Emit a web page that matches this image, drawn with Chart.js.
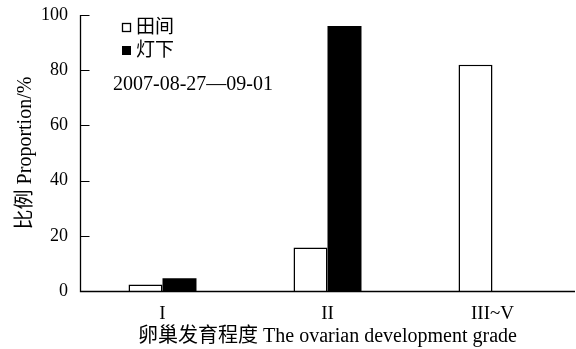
<!DOCTYPE html>
<html>
<head>
<meta charset="utf-8">
<script src="https://cdn.jsdelivr.net/npm/chart.js@4/dist/chart.umd.min.js"></script>
<style>
  html, body { margin: 0; padding: 0; background: #fff; }
  #wrap { width: 576px; height: 349px; position: relative; }
</style>
</head>
<body>
<div id="wrap"><canvas id="c"></canvas></div>
<script>
// Ovarian development grade of moths: field vs. light trap
const grades = ['I', 'II', 'III~V'];
const fieldValues = [2.4, 15.8, 82];   // 田间
const lightValues = [4.6, 96, 0];      // 灯下
const yTicks = [0, 20, 40, 60, 80, 100];
const seriesNames = ['田间', '灯下'];
const dateRange = '2007-08-27—09-01';

const FONT = '"Liberation Serif", "Times New Roman", "Noto Sans CJK SC", serif';

// axis lines, inward tick marks on the y axis, legend and date note
const decorations = {
  id: 'decorations',
  afterDatasetsDraw(chart) {
    const ctx = chart.ctx;
    const y = chart.scales.y;
    const { left, right, bottom } = chart.chartArea;
    const top = Math.round(y.getPixelForValue(100));
    const x0 = Math.round(left) + 0.5;
    const y0 = Math.round(bottom) + 0.5;
    ctx.save();
    ctx.strokeStyle = '#000';
    ctx.lineWidth = 1.3;
    ctx.beginPath();
    ctx.moveTo(x0, top);
    ctx.lineTo(x0, y0);
    ctx.lineTo(Math.round(right), y0);
    ctx.stroke();
    ctx.lineWidth = 1;
    yTicks.forEach(v => {
      const py = Math.round(y.getPixelForValue(v)) + 0.5;
      ctx.beginPath();
      ctx.moveTo(x0, py);
      ctx.lineTo(x0 + 9, py);
      ctx.stroke();
    });

    // legend
    ctx.font = '19px ' + FONT;
    ctx.textBaseline = 'middle';
    ctx.fillStyle = '#000';
    ctx.lineWidth = 1.3;
    ctx.strokeRect(122.5, 23.5, 8, 8);
    ctx.fillText(seriesNames[0], 136, 28);
    ctx.fillRect(122, 46, 9, 9);
    ctx.fillText(seriesNames[1], 136, 51);

    ctx.font = '20px ' + FONT;
    ctx.fillText(dateRange, 113, 85);
    ctx.restore();
  }
};

new Chart(document.getElementById('c'), {
  type: 'bar',
  data: {
    labels: grades,
    datasets: [
      {
        label: seriesNames[0],
        data: fieldValues,
        backgroundColor: '#fff',
        borderColor: '#000',
        borderWidth: 1.5,
        borderSkipped: 'bottom'
      },
      {
        label: seriesNames[1],
        data: lightValues,
        backgroundColor: '#000',
        borderColor: '#000',
        borderWidth: 0
      }
    ]
  },
  options: {
    responsive: true,
    maintainAspectRatio: false,
    animation: false,
    devicePixelRatio: 1,
    layout: { padding: { top: 15, right: 1, left: 0, bottom: 0 } },
    datasets: { bar: { categoryPercentage: 0.412, barPercentage: 1 } },
    plugins: {
      legend: { display: false },
      tooltip: { enabled: false }
    },
    scales: {
      x: {
        grid: { display: false, drawTicks: false },
        border: { display: false },
        ticks: {
          color: '#000',
          padding: 12,
          font: { family: FONT, size: 19 }
        },
        title: {
          display: true,
          text: '卵巢发育程度 The ovarian development grade',
          color: '#000',
          font: { family: FONT, size: 20 },
          padding: { top: 0, bottom: 0 }
        },
        afterFit(scale) {
          scale.height = 58;
          scale.paddingLeft = 0;
          scale.paddingRight = 0;
        }
      },
      y: {
        min: 0,
        max: 100,
        afterBuildTicks(scale) { scale.ticks = yTicks.map(v => ({ value: v })); },
        grid: { display: false, drawTicks: false },
        border: { display: false },
        ticks: {
          color: '#000',
          padding: 12,
          font: { family: FONT, size: 18 }
        },
        title: {
          display: true,
          text: '比例 Proportion/%',
          color: '#000',
          font: { family: FONT, size: 20 },
          padding: { top: 14, bottom: 0 }
        },
        afterFit(scale) {
          scale.width = 80;
          scale.paddingTop = 0;
          scale.paddingBottom = 0;
        }
      }
    }
  },
  plugins: [decorations]
});
</script>
</body>
</html>
